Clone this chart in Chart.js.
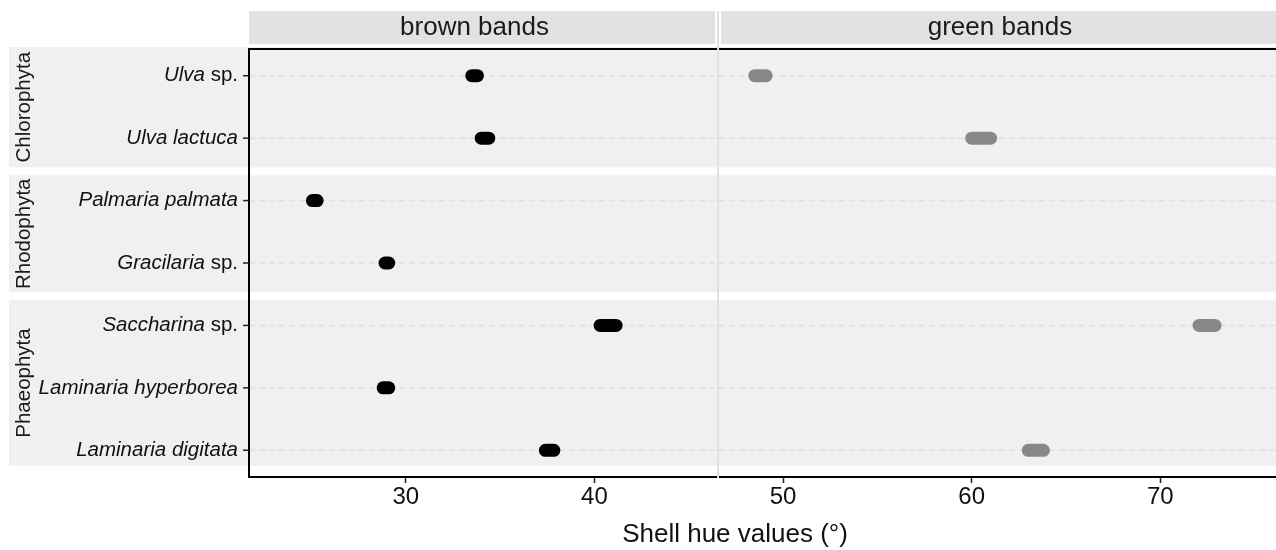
<!DOCTYPE html>
<html>
<head>
<meta charset="utf-8">
<script src="https://cdn.jsdelivr.net/npm/chart.js@4"></script>
<style>
    body { margin: 0; background: #fff; }
    canvas { display: block; }
</style>
</head>
<body>
<canvas id="hueChart" width="1276" height="550"></canvas>
<script>
// species rows, top to bottom
const rows = ['Ulva sp.', 'Ulva lactuca', 'Palmaria palmata', 'Gracilaria sp.', 'Saccharina sp.', 'Laminaria hyperborea', 'Laminaria digitata'];
const phyla = ['Chlorophyta', 'Rhodophyta', 'Phaeophyta'];
const phylumSizes = [2, 2, 3];
const panels = ['brown bands', 'green bands'];

// hue ranges (min / max) per species
const brownLow = [33.5, 34.0, 25.05, 28.9, 40.3, 28.8, 37.4];
const brownHigh = [33.8, 34.4, 25.3, 29.1, 41.15, 29.1, 37.85];
const greenLow = [48.5, 60.0, null, null, 72.05, null, 63.0];
const greenHigh = [49.1, 61.0, null, null, 72.9, null, 63.8];

const xTicks = [30, 40, 50, 60, 70];
const xTitle = 'Shell hue values (°)';

const FONT = "'Liberation Sans', Arial, Helvetica, sans-serif";
const panelSplit = 46.55;

document.addEventListener('DOMContentLoaded', function() {
    const datasets = [];
    rows.forEach((name, i) => {
        if (brownLow[i] !== null) {
            datasets.push({
                label: name + ' brown',
                data: [{x: brownLow[i], y: i + 1}, {x: brownHigh[i], y: i + 1}],
                borderColor: '#000000',
                backgroundColor: '#000000'
            });
        }
        if (greenLow[i] !== null) {
            datasets.push({
                label: name + ' green',
                data: [{x: greenLow[i], y: i + 1}, {x: greenHigh[i], y: i + 1}],
                borderColor: '#888888',
                backgroundColor: '#888888'
            });
        }
    });

    // genus in italics, "sp." upright
    function drawSpecies(ctx, label, right, y) {
        const sp = label.endsWith(' sp.');
        const genus = sp ? label.slice(0, -4) : label;
        let xr = right;
        ctx.textAlign = 'right';
        ctx.textBaseline = 'middle';
        if (sp) {
            ctx.font = '20.5px ' + FONT;
            ctx.fillText(' sp.', xr, y);
            xr -= ctx.measureText(' sp.').width;
        }
        ctx.font = 'italic 20.5px ' + FONT;
        ctx.fillText(genus, xr, y);
    }

    const facetPlugin = {
        id: 'facets',
        beforeDraw(chart) {
            const ctx = chart.ctx;
            const area = chart.chartArea;
            const x = chart.scales.x;
            const y = chart.scales.y;
            const sx = x.getPixelForValue(panelSplit);
            ctx.save();

            // phylum backgrounds + row strip labels
            let start = 0;
            phyla.forEach((name, g) => {
                const first = start + 1;
                const last = start + phylumSizes[g];
                const top = g === 0 ? area.top - 2 : y.getPixelForValue(first - 0.5) + 6;
                const bottom = g === phyla.length - 1 ? y.getPixelForValue(last) + 15.5 : y.getPixelForValue(last + 0.5) - 2;
                ctx.fillStyle = '#f0f0f0';
                ctx.fillRect(9, top, area.right - 9, bottom - top);

                ctx.save();
                ctx.translate(24, (top + bottom) / 2);
                ctx.rotate(-Math.PI / 2);
                ctx.fillStyle = '#1a1a1a';
                ctx.font = '20.5px ' + FONT;
                ctx.textAlign = 'center';
                ctx.textBaseline = 'middle';
                ctx.fillText(name, 0, 0);
                ctx.restore();
                start = last;
            });

            // column strips
            ctx.fillStyle = '#e2e2e2';
            ctx.fillRect(area.left, 11, sx - 3 - area.left, 33);
            ctx.fillRect(sx + 3, 11, area.right - sx - 3, 33);
            ctx.fillStyle = '#1a1a1a';
            ctx.font = '26px ' + FONT;
            ctx.textAlign = 'center';
            ctx.textBaseline = 'middle';
            ctx.fillText(panels[0], (area.left + sx) / 2 - 9, 28);
            ctx.fillText(panels[1], (sx + area.right) / 2 + 3, 28);

            // axis title
            ctx.font = '26px ' + FONT;
            ctx.fillStyle = '#111111';
            ctx.fillText(xTitle, 735, 535);
            ctx.restore();
        },
        beforeDatasetsDraw(chart) {
            const ctx = chart.ctx;
            const area = chart.chartArea;
            const x = chart.scales.x;
            const y = chart.scales.y;
            const sx = x.getPixelForValue(panelSplit);
            ctx.save();

            // dashed row guides
            ctx.setLineDash([6, 4]);
            ctx.strokeStyle = '#e0e0e0';
            ctx.lineWidth = 1.5;
            rows.forEach((name, i) => {
                const py = y.getPixelForValue(i + 1);
                ctx.beginPath();
                ctx.moveTo(area.left, py);
                ctx.lineTo(area.right, py);
                ctx.stroke();
            });
            ctx.setLineDash([]);

            // top and left frame
            ctx.strokeStyle = '#000000';
            ctx.lineWidth = 2;
            ctx.beginPath();
            ctx.moveTo(area.left - 1, area.top);
            ctx.lineTo(area.right, area.top);
            ctx.moveTo(area.left, area.top - 1);
            ctx.lineTo(area.left, area.bottom + 1);
            ctx.stroke();

            // divider between the two panels
            ctx.strokeStyle = '#e0e0e0';
            ctx.lineWidth = 2;
            ctx.beginPath();
            ctx.moveTo(sx, 11);
            ctx.lineTo(sx, area.bottom + 1);
            ctx.stroke();

            // y ticks and species labels
            ctx.strokeStyle = '#222222';
            ctx.lineWidth = 1.5;
            ctx.fillStyle = '#111111';
            rows.forEach((name, i) => {
                const py = y.getPixelForValue(i + 1);
                ctx.beginPath();
                ctx.moveTo(area.left - 6, py);
                ctx.lineTo(area.left, py);
                ctx.stroke();
                drawSpecies(ctx, name, area.left - 11, py);
            });
            ctx.restore();
        }
    };

    const ctx = document.getElementById('hueChart').getContext('2d');
    new Chart(ctx, {
        type: 'scatter',
        data: { datasets: datasets },
        options: {
            responsive: false,
            animation: false,
            events: [],
            showLine: true,
            elements: {
                line: {
                    borderWidth: 13,
                    borderCapStyle: 'round'
                },
                point: {
                    radius: 0
                }
            },
            layout: {
                padding: {
                    top: 49,
                    left: 249,
                    right: 0,
                    bottom: 0
                }
            },
            plugins: {
                legend: { display: false },
                tooltip: { enabled: false }
            },
            scales: {
                x: {
                    type: 'linear',
                    min: 21.69,
                    max: 76.13,
                    afterBuildTicks: (scale) => {
                        scale.ticks = xTicks.map(v => ({ value: v }));
                    },
                    afterFit: (scale) => {
                        scale.height = 73;
                    },
                    grid: {
                        drawOnChartArea: false,
                        drawTicks: true,
                        tickLength: 6,
                        tickColor: '#222222',
                        tickWidth: 1.5
                    },
                    border: {
                        display: true,
                        color: '#000000',
                        width: 2
                    },
                    ticks: {
                        color: '#111111',
                        padding: 0,
                        font: {
                            family: FONT,
                            size: 24
                        }
                    },
                    title: {
                        display: false
                    }
                },
                y: {
                    type: 'linear',
                    display: false,
                    reverse: true,
                    min: 0.572,
                    max: 7.428
                }
            }
        },
        plugins: [facetPlugin]
    });
});
</script>
</body>
</html>
